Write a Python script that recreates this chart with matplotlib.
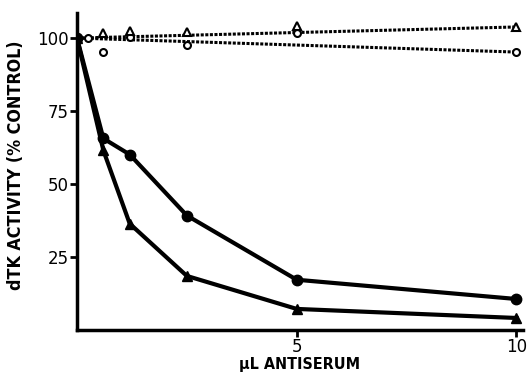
import matplotlib.pyplot as plt

# ul antiserum
dose = [0, 0.6, 1.2, 2.5, 5, 10]

# filled symbols (antiserum)
act_circle = [100, 65.6, 60.1, 39.2, 17.2, 10.6]
act_triangle = [100, 61.5, 36.4, 18.5, 7.2, 4.1]

# open symbols (control serum)
dose_open_circle = [0.25, 0.6, 1.2, 2.5, 5, 10]
act_open_circle = [100, 95.2, 100.3, 97.6, 101.7, 95.2]
dose_open_triangle = [0.6, 1.2, 2.5, 5, 10]
act_open_triangle = [101.7, 102.4, 102, 104, 103.8]

# fitted lines through open symbols
fit_x = [0, 10]
fit_upper = [100, 103.8]
fit_lower = [100, 95.2]

fig = plt.figure(figsize=(5.31, 3.81), dpi=100)
ax = fig.add_axes([0.145, 0.134, 0.84, 0.832])

ax.plot(fit_x, fit_upper, color='black', lw=2.2, ls=(0, (1, 0.5)))
ax.plot(fit_x, fit_lower, color='black', lw=2.2, ls=(0, (1, 0.5)))
ax.plot(dose_open_circle, act_open_circle, ls='none', marker='o', ms=5,
        mfc='white', mec='black', mew=1.5, zorder=4)
ax.plot(dose_open_triangle, act_open_triangle, ls='none', marker='^', ms=5.5,
        mfc='white', mec='black', mew=1.5, zorder=4)

ax.plot(dose, act_circle, color='black', lw=3, marker='o', ms=7.5, zorder=5)
ax.plot(dose, act_triangle, color='black', lw=3, marker='^', ms=7, zorder=5)

ax.set_xlim(0, 10.15)
ax.set_ylim(0, 108.6)
ax.set_xticks([5, 10])
ax.set_xticklabels(['5', '10'])
ax.set_yticks([25, 50, 75, 100])

for s in ['top', 'right']:
    ax.spines[s].set_visible(False)
for s in ['left', 'bottom']:
    ax.spines[s].set_linewidth(2.5)

ax.tick_params(direction='out', length=5, width=2, labelsize=12, pad=1)

fig.text(0.565, 0.042, 'µL ANTISERUM', ha='center', va='center',
         fontweight='bold', fontsize=11.5, stretch='condensed')
fig.text(0.03, 0.567, 'dTK ACTIVITY (% CONTROL)', ha='center', va='center',
         rotation=90, fontweight='bold', fontsize=12.8, stretch='condensed')

fig.savefig('out.png', dpi=100)
